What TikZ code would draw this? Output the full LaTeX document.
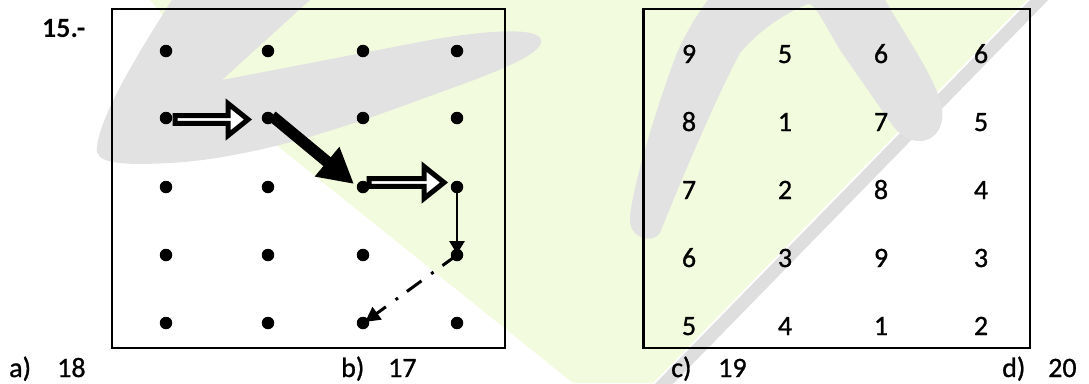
\documentclass[tikz,border=0pt]{standalone}
\usepackage{fontspec}
\setmainfont{Carlito}
\newfontfamily\digitfont{Carlito}[FakeBold=1]
\usetikzlibrary{arrows.meta,calc}
\definecolor{wmgreen}{RGB}{243,251,222}
\definecolor{wmgray}{RGB}{226,226,226}
\definecolor{wmshade}{RGB}{222,222,222}
\tikzset{
  dot/.style={circle, fill=black, inner sep=0pt, minimum size=12.5pt},
  num/.style={anchor=base, inner sep=0pt, font=\digitfont\fontsize{28}{34}\selectfont},
  lbl/.style={anchor=base west, inner sep=0pt, font=\digitfont\fontsize{28}{34}\selectfont},
  gridbox/.style={draw=black, line width=2.6pt},
  hollow arrow/.style={draw=black, fill=white, line width=5pt, line join=miter,
    to path={let \p1=(\tikztostart), \p2=(\tikztotarget) in
      (\x1,\y1+3.85pt) -- (\x2-20pt,\y1+3.85pt) -- (\x2-20pt,\y1+16pt) -- (\x2,\y1)
      -- (\x2-20pt,\y1-16pt) -- (\x2-20pt,\y1-3.85pt) -- (\x1,\y1-3.85pt) -- cycle}},
  heavy arrow/.style={line width=11.5pt, -{Triangle[length=35pt,width=36pt]}},
  thin arrow/.style={line width=2.9pt, -{Triangle[length=13pt,width=15pt]}},
  dashdot arrow/.style={line width=3pt, dash pattern=on 18pt off 11pt on 3pt off 12pt,
    -{Triangle[length=15pt,width=15pt]}}
}
\begin{document}
\begin{tikzpicture}[x=1pt,y=-1pt]
\useasboundingbox (0,0) rectangle (1089,383);
% watermark
\draw[wmshade, line width=13pt] (1044,-5) -- (658,390);
\fill[wmgreen] (150,0) -- (1027,0) -- (653,383) -- (573,383) -- (270,140) -- cycle;
\fill[wmgray] (97,147) .. controls (100,115) and (140,50) .. (172,0) -- (310,0) -- (222,80)
  -- (430,40) .. controls (500,28) and (545,28) .. (541,43)
  .. controls (537,58) and (480,78) .. (430,96)
  .. controls (360,122) and (260,158) .. (170,163)
  .. controls (115,166) and (94,162) .. (97,147) -- cycle;
\fill[wmgray] (630,217) .. controls (632,190) and (655,110) .. (677,53)
  .. controls (687,30) and (700,10) .. (708,0) -- (885,0)
  .. controls (905,35) and (930,70) .. (940,100)
  .. controls (948,125) and (935,142) .. (918,141)
  .. controls (905,140) and (898,132) .. (893,126) -- (840,50)
  .. controls (825,25) and (815,3) .. (808,4)
  .. controls (780,15) and (755,35) .. (740,53)
  .. controls (720,90) and (685,170) .. (660,233)
  .. controls (652,245) and (628,238) .. (630,217) -- cycle;

% boxes
\draw[gridbox] (112,9) rectangle (505,348);
\draw[gridbox] (643.5,9) rectangle (1030,348);
\node[lbl, font=\fontsize{28}{34}\selectfont\bfseries] (qnum) at (42,37) {15.-};

% dots
\node[dot] (d11) at (166,51) {};
\node[dot] (d21) at (268,51) {};
\node[dot] (d31) at (363,51) {};
\node[dot] (d41) at (457,51) {};
\node[dot] (d12) at (166,118) {};
\node[dot] (d22) at (268,118) {};
\node[dot] (d32) at (363,118) {};
\node[dot] (d42) at (457,118) {};
\node[dot] (d13) at (166,187) {};
\node[dot] (d23) at (268,187) {};
\node[dot] (d33) at (363,187) {};
\node[dot] (d43) at (457,187) {};
\node[dot] (d14) at (166,255) {};
\node[dot] (d24) at (268,255) {};
\node[dot] (d34) at (363,255) {};
\node[dot] (d44) at (457,255) {};
\node[dot] (d15) at (166,323) {};
\node[dot] (d25) at (268,323) {};
\node[dot] (d35) at (363,323) {};
\node[dot] (d45) at (457,323) {};

% path
\draw[hollow arrow] ($(d12)+(9,1.5)$) to ($(d22)+(-20,1.5)$);
\draw[heavy arrow] ($(d22)+(4,-2)$) -- ($(d33)+(-9,-3)$);
\draw[hollow arrow] ($(d33)+(6,-4.5)$) to ($(d43)+(-13,-4.5)$);
\draw[thin arrow] (d43.center) -- ($(d44)+(0,-1)$);
\draw[dashdot arrow] (d44.center) -- ($(d35)+(2,-1)$);

% numbers
\node[num] (n11) at (689,63) {9};
\node[num] (n21) at (785,63) {5};
\node[num] (n31) at (881,63) {6};
\node[num] (n41) at (981,63) {6};
\node[num] (n12) at (689,131) {8};
\node[num] (n22) at (785,131) {1};
\node[num] (n32) at (881,131) {7};
\node[num] (n42) at (981,131) {5};
\node[num] (n13) at (689,199) {7};
\node[num] (n23) at (785,199) {2};
\node[num] (n33) at (881,199) {8};
\node[num] (n43) at (981,199) {4};
\node[num] (n14) at (689,267) {6};
\node[num] (n24) at (785,267) {3};
\node[num] (n34) at (881,267) {9};
\node[num] (n44) at (981,267) {3};
\node[num] (n15) at (689,335) {5};
\node[num] (n25) at (785,335) {4};
\node[num] (n35) at (881,335) {1};
\node[num] (n45) at (981,335) {2};

% answers
\node[lbl] (oa) at (9,377) {a)};
\node[lbl] (va) at (57,377) {18};
\node[lbl] (ob) at (341,377) {b)};
\node[lbl] (vb) at (388,377) {17};
\node[lbl] (oc) at (671,377) {c)};
\node[lbl] (vc) at (718,377) {19};
\node[lbl] (od) at (1002,377) {d)};
\node[lbl] (vd) at (1048,377) {20};
\end{tikzpicture}
\end{document}
